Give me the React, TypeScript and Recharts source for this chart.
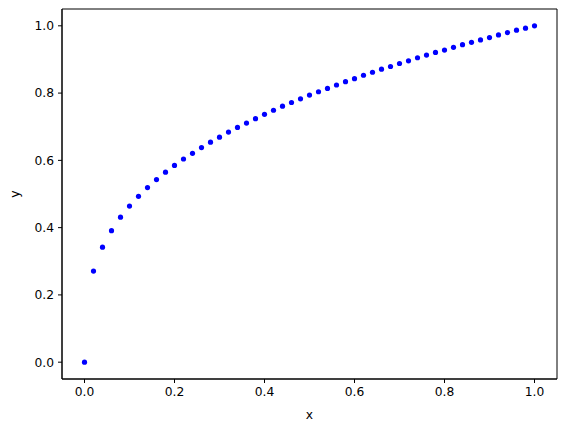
import React from "react";
import { ScatterChart, Scatter, XAxis, YAxis, ReferenceArea, Label } from "recharts";

const xValues = [
  0.0, 0.02, 0.04, 0.06, 0.08, 0.1, 0.12, 0.14, 0.16, 0.18, 0.2, 0.22, 0.24, 0.26, 0.28, 0.3, 0.32, 0.34,
  0.36, 0.38, 0.4, 0.42, 0.44, 0.46, 0.48, 0.5, 0.52, 0.54, 0.56, 0.58, 0.6, 0.62, 0.64, 0.66, 0.68, 0.7,
  0.72, 0.74, 0.76, 0.78, 0.8, 0.82, 0.84, 0.86, 0.88, 0.9, 0.92, 0.94, 0.96, 0.98, 1.0,
];
const yValues = [
  0.0, 0.271, 0.342, 0.391, 0.431, 0.464, 0.493, 0.519, 0.543, 0.565, 0.585, 0.604, 0.621, 0.638, 0.654,
  0.669, 0.684, 0.698, 0.711, 0.724, 0.737, 0.749, 0.761, 0.772, 0.783, 0.794, 0.804, 0.814, 0.824, 0.834,
  0.843, 0.853, 0.862, 0.871, 0.879, 0.888, 0.896, 0.905, 0.913, 0.921, 0.928, 0.936, 0.944, 0.951, 0.958,
  0.965, 0.973, 0.98, 0.987, 0.993, 1.0,
];
const tickValues = [0, 0.2, 0.4, 0.6, 0.8, 1.0];

const data = xValues.map((x, i) => ({ x, y: yValues[i] }));

const FONT = "DejaVu Sans, sans-serif";
const fmt = (v: number) => v.toFixed(1);

const Dot = (props: any) => <circle cx={props.cx} cy={props.cy} r={2.6} fill="#0000ff" />;

export default function App() {
  return (
    <div style={{ position: "absolute", left: 0, top: 0, width: 567, height: 432, background: "#fff" }}>
      <ScatterChart width={567} height={432} margin={{ top: 9, right: 10, bottom: 0, left: 0 }}>
        <XAxis
          type="number"
          dataKey="x"
          domain={[-0.05, 1.05]}
          ticks={tickValues}
          tickFormatter={fmt}
          allowDataOverflow
          height={53}
          stroke="#000"
          tickSize={4}
          tickMargin={4}
          tick={{ fill: "#000", fontSize: 12.3, fontFamily: FONT }}
        >
          <Label value="x" position="insideBottom" offset={13} style={{ fill: "#000", fontSize: 12.3, fontFamily: FONT }} />
        </XAxis>
        <YAxis
          type="number"
          dataKey="y"
          domain={[-0.05, 1.05]}
          ticks={tickValues}
          tickFormatter={fmt}
          allowDataOverflow
          width={62}
          stroke="#000"
          tickSize={4}
          tickMargin={4}
          tick={{ fill: "#000", fontSize: 12.3, fontFamily: FONT }}
        >
          <Label value="y" angle={-90} position="insideLeft" offset={15} style={{ fill: "#000", fontSize: 12.3, fontFamily: FONT, textAnchor: "middle" }} />
        </YAxis>
        <ReferenceArea x1={-0.05} x2={1.05} y1={-0.05} y2={1.05} fill="none" stroke="#000" strokeWidth={1} ifOverflow="visible" />
        <Scatter data={data} isAnimationActive={false} shape={Dot} />
      </ScatterChart>
    </div>
  );
}
